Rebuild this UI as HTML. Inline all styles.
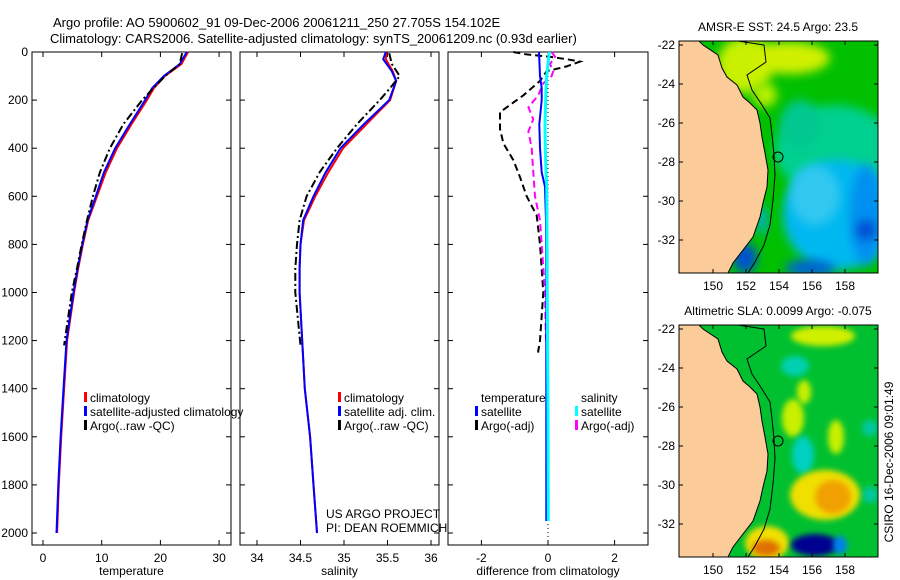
<!DOCTYPE html>
<html><head><meta charset="utf-8">
<style>
html,body{margin:0;background:#fff;overflow:hidden;width:900px;height:580px;}
svg{display:block;font-family:"Liberation Sans",sans-serif;}
</style></head>
<body>
<svg id="fig" width="900" height="580" viewBox="0 0 900 580" xmlns="http://www.w3.org/2000/svg">
<rect width="900" height="580" fill="#fff"/>
<text x="53" y="27" font-size="13">Argo profile: AO 5900602_91 09-Dec-2006 20061211_250 27.705S 154.102E</text>
<text x="50" y="43" font-size="13">Climatology: CARS2006. Satellite-adjusted climatology: synTS_20061209.nc (0.93d earlier)</text>
<defs>
<clipPath id="c1"><rect x="679" y="41" width="199" height="232"/></clipPath>
<clipPath id="c2"><rect x="679" y="325" width="199" height="232"/></clipPath>
<filter id="bl" x="-50%" y="-50%" width="200%" height="200%"><feGaussianBlur stdDeviation="5"/></filter>
<filter id="bl2" x="-50%" y="-50%" width="200%" height="200%"><feGaussianBlur stdDeviation="3"/></filter>
</defs>
<g id="plots"></g>
<g id="maps"></g>
</svg>
<script>
// ---- profile data ----
const tDepth=[0,50,100,150,200,300,400,500,600,700,800,900,1000,1200,1400,1600,1800,2000];
const tClim=[24.7,23.6,20.8,18.9,17.7,15.1,12.6,10.7,9.2,7.7,6.8,6.0,5.3,4.1,3.6,3.1,2.7,2.4];
const tSat=[24.5,23.3,20.6,18.6,17.4,14.8,12.3,10.4,9.0,7.6,6.7,5.9,5.2,4.0,3.5,3.0,2.6,2.3];
const argoDepth=[5,50,100,150,200,300,400,500,600,700,800,900,1000,1220];
const tArgo=[23.7,23.3,20.8,18.8,16.9,13.7,11.4,9.7,8.5,7.5,6.6,5.8,4.9,3.6];
const sDepth=[0,30,80,120,200,300,400,500,600,700,800,900,1000,1200,1400,1600,1800,2000];
const sClim=[35.49,35.48,35.56,35.60,35.53,35.26,34.99,34.82,34.67,34.54,34.50,34.49,34.49,34.52,34.55,34.61,34.65,34.69];
const sSat=[35.48,35.45,35.55,35.60,35.52,35.23,34.96,34.79,34.65,34.53,34.50,34.49,34.49,34.52,34.55,34.61,34.65,34.69];
const sArgo=[35.52,35.55,35.64,35.53,35.41,35.15,34.92,34.72,34.57,34.49,34.46,34.44,34.44,34.50];
const dtArgoDepth=[0,10,20,30,40,60,80,120,180,230,250,320,380,450,520,600,680,800,1000,1200,1250];
const dtArgo=[-1.04,-0.64,0.06,0.56,0.96,0.56,-0.04,-0.24,-0.74,-1.24,-1.44,-1.44,-1.34,-1.04,-0.84,-0.64,-0.34,-0.24,-0.14,-0.24,-0.3];
const dSatDepth=[0,100,150,200,300,400,500,560,700,1000,1500,1950];
const dtSat=[-0.27,-0.24,-0.19,-0.19,-0.26,-0.24,-0.19,-0.09,-0.06,-0.05,-0.05,-0.05];
const dsSat=[0.04,-0.04,-0.06,-0.07,-0.09,-0.08,-0.06,-0.04,-0.03,-0.02,0.0,0.01];
const dsArgoDepth=[0,20,50,80,100,130,180,230,280,330,400,500,600,700,800,1000,1200];
const dsArgo=[0.11,0.21,0.06,0.16,0.11,-0.14,-0.29,-0.59,-0.44,-0.59,-0.49,-0.44,-0.39,-0.24,-0.19,-0.09,-0.06];
const depthTicks=[0,200,400,600,800,1000,1200,1400,1600,1800,2000];
const tTicks=[0,10,20,30];
const sTicks=[34,34.5,35,35.5,36];
const dTicks=[-2,0,2];

const NS="http://www.w3.org/2000/svg";
const plots=document.getElementById('plots');
function el(tag,attrs,parent){const e=document.createElementNS(NS,tag);for(const k in attrs)e.setAttribute(k,attrs[k]);(parent||plots).appendChild(e);return e;}
const yTop=52, yBot=545;
const yS=d=>yTop+d*0.2405;
const panels=[
 {x0:32,x1:231,xs:v=>43+v*5.87,ticks:tTicks,label:'temperature',name:'temperature-panel',yl:true},
 {x0:240,x1:439,xs:v=>257+(v-34)*87,ticks:sTicks,label:'salinity',name:'salinity-panel'},
 {x0:448,x1:648,xs:v=>548+v*33.3,ticks:dTicks,label:'difference from climatology',name:'difference-panel'}
];
panels.forEach(p=>{
 const g=el('g',{});
 
 
 const r=el('rect',{x:p.x0,y:yTop,width:p.x1-p.x0,height:yBot-yTop,fill:'none',stroke:'#000','stroke-width':1},g);
 
 
 p.ticks.forEach(t=>{const x=p.xs(t);
  el('line',{x1:x,x2:x,y1:yBot,y2:yBot-5,stroke:'#000'},g);
  el('line',{x1:x,x2:x,y1:yTop,y2:yTop+5,stroke:'#000'},g);
  const tx=el('text',{x:x,y:yBot+17,'font-size':12,'text-anchor':'middle'},g);tx.textContent=t;
  
  
 });
 depthTicks.forEach(d=>{const y=yS(d);
  el('line',{x1:p.x0,x2:p.x0+5,y1:y,y2:y,stroke:'#000'},g);
  el('line',{x1:p.x1,x2:p.x1-5,y1:y,y2:y,stroke:'#000'},g);
  if(p.yl){const tx=el('text',{x:p.x0-4,y:y+4,'font-size':12,'text-anchor':'end'},g);tx.textContent=d;
   
   }
 });
 const xl=el('text',{x:(p.x0+p.x1)/2,y:yBot+30,'font-size':12,'text-anchor':'middle'},g);xl.textContent=p.label;
 
 
});
function line(p,depths,vals,color,dash,name,w){
 const pts=depths.map((d,i)=>p.xs(vals[i]).toFixed(1)+','+yS(d).toFixed(1)).join(' ');
 const e=el('polyline',{points:pts,fill:'none',stroke:color,'stroke-width':w||2,'stroke-dasharray':dash||'none'});
 
 
}
const P=panels;
const z=el('line',{x1:P[2].xs(0),x2:P[2].xs(0),y1:yTop,y2:yBot,stroke:'#000','stroke-dasharray':'1,3'});


line(P[0],tDepth,tClim,'#f00',null,'temperature-climatology');
line(P[0],tDepth,tSat,'#00f',null,'temperature-satellite-adjusted');
line(P[0],argoDepth,tArgo,'#000','8,3,2,3','temperature-argo');
line(P[1],sDepth,sClim,'#f00',null,'salinity-climatology');
line(P[1],sDepth,sSat,'#00f',null,'salinity-satellite-adjusted');
line(P[1],argoDepth,sArgo,'#000','8,3,2,3','salinity-argo');
line(P[2],dtArgoDepth,dtArgo,'#000','7,4','temperature-argo-difference');
line(P[2],dsArgoDepth,dsArgo,'#f0f','7,4','salinity-argo-difference');
line(P[2],dSatDepth,dtSat,'#00f',null,'temperature-satellite-difference');
line(P[2],dSatDepth,dsSat,'#0ff',null,'salinity-satellite-difference',3);
function leg(x,y,color,txt,name){
 const g=el('g',{});
 
 
 if(color)el('rect',{x:x-6,y:y-10,width:3,height:10,fill:color},g);
 const t=el('text',{x:x,y:y,'font-size':12},g);t.textContent=txt;
}
leg(90,402,'#f00','climatology','legend-climatology');
leg(90,416,'#00f','satellite-adjusted climatology','legend-satellite-adjusted');
leg(90,430,'#000','Argo(..raw -QC)','legend-argo');
leg(344,402,'#f00','climatology','legend-climatology-sal');
leg(344,416,'#00f','satellite adj. clim.','legend-satellite-sal');
leg(344,430,'#000','Argo(..raw -QC)','legend-argo-sal');
leg(326,518,null,'US ARGO PROJECT','project-note');
leg(326,532,null,'PI: DEAN ROEMMICH','pi-note');
leg(481,402,null,'temperature','legend-temperature-heading');
leg(481,416,'#00f','satellite','legend-temp-satellite');
leg(481,430,'#000','Argo(-adj)','legend-temp-argo');
leg(581,402,null,'salinity','legend-salinity-heading');
leg(581,416,'#0ff','satellite','legend-sal-satellite');
leg(581,430,'#f0f','Argo(-adj)','legend-sal-argo');

// ---- maps ---- (blob coords relative to top map frame)
const maps=document.getElementById('maps');
const coast=[[699,41],[703,45],[718,55],[722,68],[727,77],[737,85],[743,97],[750,103],[757,110],[760,123],[762,137],[765,153],[768,170],[767,187],[763,203],[760,217],[753,237],[743,250],[733,263],[728,273]];
const contour=[[738,41],[764,45],[766,62],[747,75],[752,90],[762,105],[770,118],[772,135],[774,155],[775,175],[773,200],[770,225],[764,245],[755,262],[748,273]];
const sstBlobs=[['#c8f000',745,65,28,28],['#d0f000',790,58,40,16],['#b8f000',765,95,12,12],['#00d090',835,150,60,45],['#00c890',800,125,20,25],['#00b8f0',838,215,55,55],['#30c8f0',815,195,25,30],['#0090f0',866,215,16,50],['#0060e0',810,268,25,8],['#0050d0',866,230,10,10],['#0050d0',745,258,12,15],['#00b0e0',762,220,5,15]];
const slaBlobs=[['#d0f000',823,52,32,10],['#c8f000',793,134,11,19],['#c8f000',804,108,7,12],['#c8f000',836,153,8,17],['#00d0b0',795,82,14,10],['#00d0c0',803,171,11,19],['#00c8a0',870,144,8,8],['#00c8a0',870,211,8,8],['#f0e000',825,211,35,25],['#f0a000',833,213,18,17],['#f0e000',767,259,22,17],['#e07000',766,264,14,8],['#000090',815,261,24,11],['#0080f0',840,261,7,9]];
function drawMap(dy,clip,base,blobs,filt,title,name){
 const g=document.createElementNS(NS,'g');maps.appendChild(g);
 
 
 const inner=document.createElementNS(NS,'g');inner.setAttribute('clip-path','url(#'+clip+')');g.appendChild(inner);
 el('rect',{x:679,y:41+dy,width:199,height:232,fill:base},inner);
 blobs.forEach(b=>{el('ellipse',{cx:b[1],cy:b[2]+dy,rx:b[3],ry:b[4],fill:b[0],filter:'url(#'+filt+')'},inner);});
 const land=coast.map(p=>p[0]+','+(p[1]+dy)).join(' ')+' 679,'+(273+dy)+' 679,'+(41+dy);
 const l=el('polygon',{points:land,fill:'#fbcb9a',stroke:'#000','stroke-width':1},inner);
 
 
 el('polyline',{points:contour.map(p=>p[0]+','+(p[1]+dy)).join(' '),fill:'none',stroke:'#000','stroke-width':1},inner);
 const c=el('circle',{cx:778,cy:157+dy,r:5,fill:'none',stroke:'#000'},inner);
 
 
 el('rect',{x:679,y:41+dy,width:199,height:232,fill:'none',stroke:'#000'},g);
 [-22,-24,-26,-28,-30,-32].forEach(lat=>{const y=45+(-22-lat)*19.5+dy;
  el('line',{x1:679,x2:683,y1:y,y2:y,stroke:'#000'},g);el('line',{x1:878,x2:874,y1:y,y2:y,stroke:'#000'},g);
  const t=el('text',{x:675,y:y+4,'font-size':12,'text-anchor':'end'},g);t.textContent=lat;});
 [150,152,154,156,158].forEach(lon=>{const x=713+(lon-150)*16.5;
  el('line',{x1:x,x2:x,y1:273+dy,y2:269+dy,stroke:'#000'},g);el('line',{x1:x,x2:x,y1:41+dy,y2:45+dy,stroke:'#000'},g);
  const t=el('text',{x:x,y:290+dy,'font-size':12,'text-anchor':'middle'},g);t.textContent=lon;});
 const t=el('text',{x:778,y:31+dy,'font-size':12,'text-anchor':'middle'},g);t.textContent=title;
 
 
}
drawMap(0,'c1','#00c000',sstBlobs,'bl','AMSR-E SST: 24.5 Argo: 23.5','sst-map');
drawMap(284,'c2','#00c030',slaBlobs,'bl2','Altimetric SLA: 0.0099 Argo: -0.075','sla-map');
const cs=el('text',{x:0,y:0,'font-size':12,'text-anchor':'middle',transform:'translate(893,462) rotate(-90)'},maps);
cs.textContent='CSIRO 16-Dec-2006 09:01:49';


</script>
</body></html>
